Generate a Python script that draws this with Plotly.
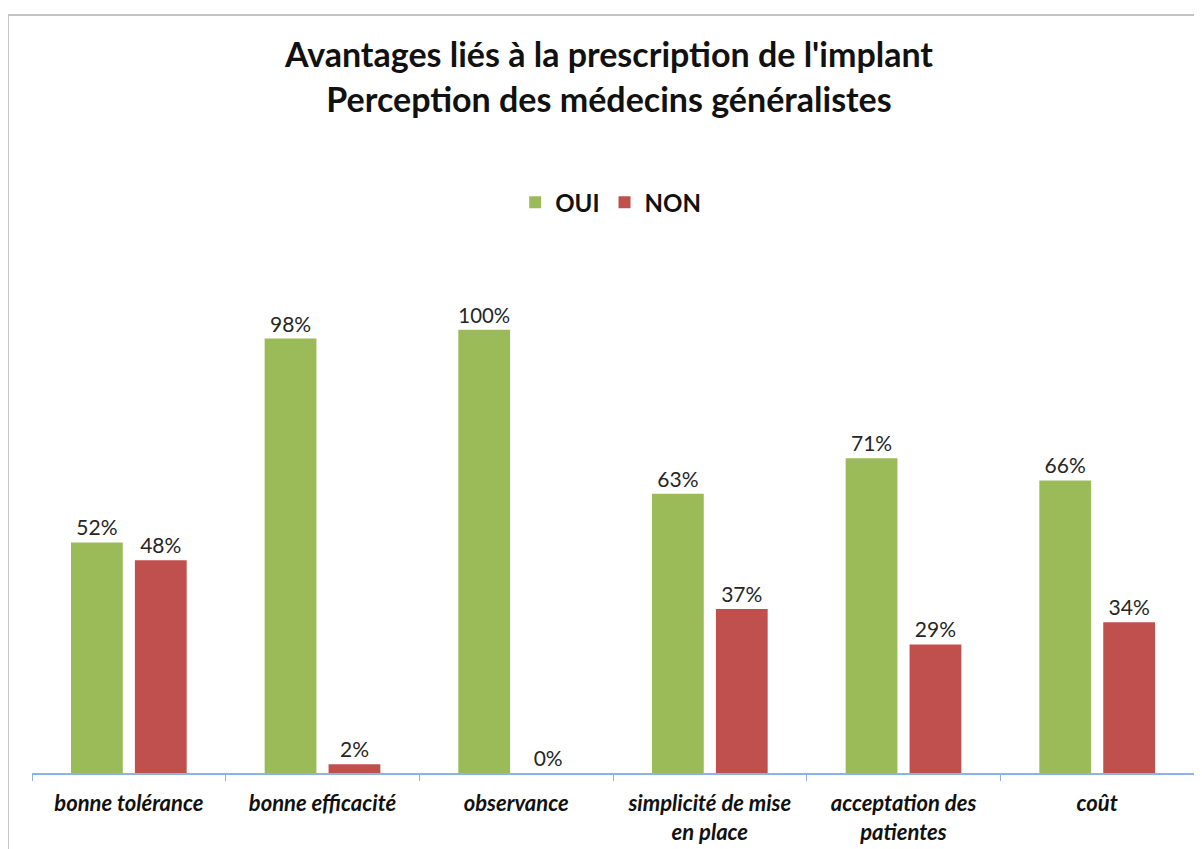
import plotly.graph_objects as go

categories = ["bonne tolérance", "bonne efficacité", "observance",
              "simplicité de mise<br>en place", "acceptation des<br>patientes", "coût"]
oui = [52, 98, 100, 63, 71, 66]
non = [48, 2, 0, 37, 29, 34]

GREEN = "#9BBB59"
RED = "#C0504D"
FONT = "Lato"

fig = go.Figure()
for name, vals, col in (("OUI", oui, GREEN), ("NON", non, RED)):
    fig.add_trace(go.Bar(name=name, x=categories, y=vals, marker_color=col,
                         marker_line_width=0,
                         texttemplate="%{y}%", textposition="outside",
                         textfont=dict(family=FONT, size=21, color="#262626"),
                         cliponaxis=False))

fig.update_layout(
    width=1202, height=849,
    margin=dict(l=24, r=16, t=233, b=77),
    paper_bgcolor="white", plot_bgcolor="white",
    barmode="group", bargap=0.34, bargroupgap=0.19,
    title=dict(text="<b>Avantages liés à la prescription de l'implant<br>Perception des médecins généralistes</b>",
               x=0.5, xanchor="center", y=0.93, yanchor="middle",
               font=dict(family=FONT, size=34, color="#111")),
    legend=dict(orientation="h", x=0.498, xanchor="center", y=1.072, yanchor="middle",
                font=dict(family=FONT, size=24, color="#111", weight="bold"),
                itemwidth=30, traceorder="normal"),
    font=dict(family=FONT),
    showlegend=True,
)
fig.update_xaxes(showline=True, linecolor="#8DB3E2", linewidth=1.5,
                 ticks="outside", tickson="boundaries", ticklen=6, tickcolor="#8DB3E2",
                 ticklabelstandoff=10,
                 tickfont=dict(family=FONT, size=22, color="#111", weight="bold", style="italic"),
                 showgrid=False)
fig.update_yaxes(range=[0, 120], visible=False, showgrid=False)

fig.add_shape(type="rect", xref="paper", yref="paper",
              x0=-0.0207, x1=1.05, y0=-0.3, y1=1.425,
              line=dict(color="#C4C4C4", width=2), fillcolor="rgba(0,0,0,0)", layer="below")

fig.write_html("out.html")
